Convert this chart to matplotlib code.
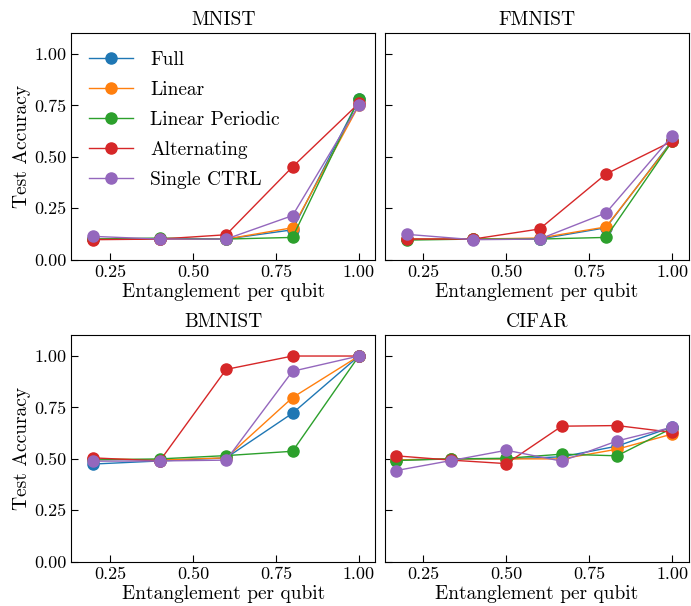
import numpy as np
import matplotlib
matplotlib.use("Agg")
import matplotlib.pyplot as plt

# x positions (entanglement per qubit)
x_five = [0.2, 0.4, 0.6, 0.8, 1.0]
x_cifar = [1/6, 2/6, 3/6, 4/6, 5/6, 1.0]

labels = ["Full", "Linear", "Linear Periodic", "Alternating", "Single CTRL"]
colors = ["#1f77b4", "#ff7f0e", "#2ca02c", "#d62728", "#9467bd"]

# test accuracies per dataset, one list per entanglement scheme
mnist_full = [0.10, 0.10, 0.10, 0.145, 0.78]
mnist_linear = [0.10, 0.10, 0.10, 0.155, 0.75]
mnist_periodic = [0.10, 0.105, 0.10, 0.108, 0.78]
mnist_alt = [0.097, 0.10, 0.121, 0.451, 0.76]
mnist_single = [0.113, 0.10, 0.10, 0.214, 0.752]

fmnist_full = [0.10, 0.10, 0.10, 0.155, 0.58]
fmnist_linear = [0.10, 0.10, 0.105, 0.159, 0.575]
fmnist_periodic = [0.095, 0.10, 0.10, 0.108, 0.576]
fmnist_alt = [0.10, 0.10, 0.149, 0.416, 0.576]
fmnist_single = [0.123, 0.097, 0.10, 0.227, 0.602]

bmnist_full = [0.475, 0.49, 0.505, 0.722, 1.0]
bmnist_linear = [0.50, 0.495, 0.505, 0.798, 1.0]
bmnist_periodic = [0.495, 0.50, 0.516, 0.537, 1.0]
bmnist_alt = [0.505, 0.49, 0.935, 1.0, 1.0]
bmnist_single = [0.489, 0.49, 0.494, 0.926, 1.0]

cifar_full = [0.495, 0.50, 0.50, 0.51, 0.562, 0.655]
cifar_linear = [0.495, 0.50, 0.50, 0.50, 0.547, 0.621]
cifar_periodic = [0.492, 0.50, 0.503, 0.523, 0.515, 0.65]
cifar_alt = [0.515, 0.494, 0.477, 0.659, 0.662, 0.629]
cifar_single = [0.443, 0.492, 0.542, 0.489, 0.587, 0.654]

plt.rcParams['font.family'] = ['cmr10', 'DejaVu Serif']
plt.rcParams['mathtext.fontset'] = 'cm'
plt.rcParams['axes.formatter.use_mathtext'] = True

fig, axes = plt.subplots(2, 2, figsize=(6.91, 6.06), dpi=100)
plt.subplots_adjust(left=0.103, right=0.997, top=0.945, bottom=0.073, wspace=0.03, hspace=0.335)

panels = [
    ("MNIST", x_five, [mnist_full, mnist_linear, mnist_periodic, mnist_alt, mnist_single]),
    ("FMNIST", x_five, [fmnist_full, fmnist_linear, fmnist_periodic, fmnist_alt, fmnist_single]),
    ("BMNIST", x_five, [bmnist_full, bmnist_linear, bmnist_periodic, bmnist_alt, bmnist_single]),
    ("CIFAR", x_cifar, [cifar_full, cifar_linear, cifar_periodic, cifar_alt, cifar_single]),
]

for i, (title, xs, series) in enumerate(panels):
    ax = axes.flat[i]
    for ys, lab, c in zip(series, labels, colors):
        ax.plot(xs, ys, '-o', color=c, label=lab, markersize=8, linewidth=1)
    ax.set_title(title, fontsize=14)
    ax.set_xlabel("Entanglement per qubit", fontsize=14, labelpad=2)
    ax.set_xlim(0.133, 1.05)
    ax.set_ylim(0, 1.1)
    ax.set_xticks([0.25, 0.5, 0.75, 1.0])
    ax.set_xticklabels(["0.25", "0.50", "0.75", "1.00"])
    ax.set_yticks([0, 0.25, 0.5, 0.75, 1.0])
    ax.tick_params(direction='in', length=5, labelsize=13)
    if i % 2 == 0:
        ax.set_yticklabels(["0.00", "0.25", "0.50", "0.75", "1.00"])
        ax.set_ylabel("Test Accuracy", fontsize=14, labelpad=2)
    else:
        ax.set_yticklabels([])

axes[0, 0].legend(loc='upper left', frameon=False, fontsize=14, handlelength=2.3,
                  handletextpad=0.85, labelspacing=0.62, borderaxespad=0.5)

plt.savefig("out.png", dpi=100)
